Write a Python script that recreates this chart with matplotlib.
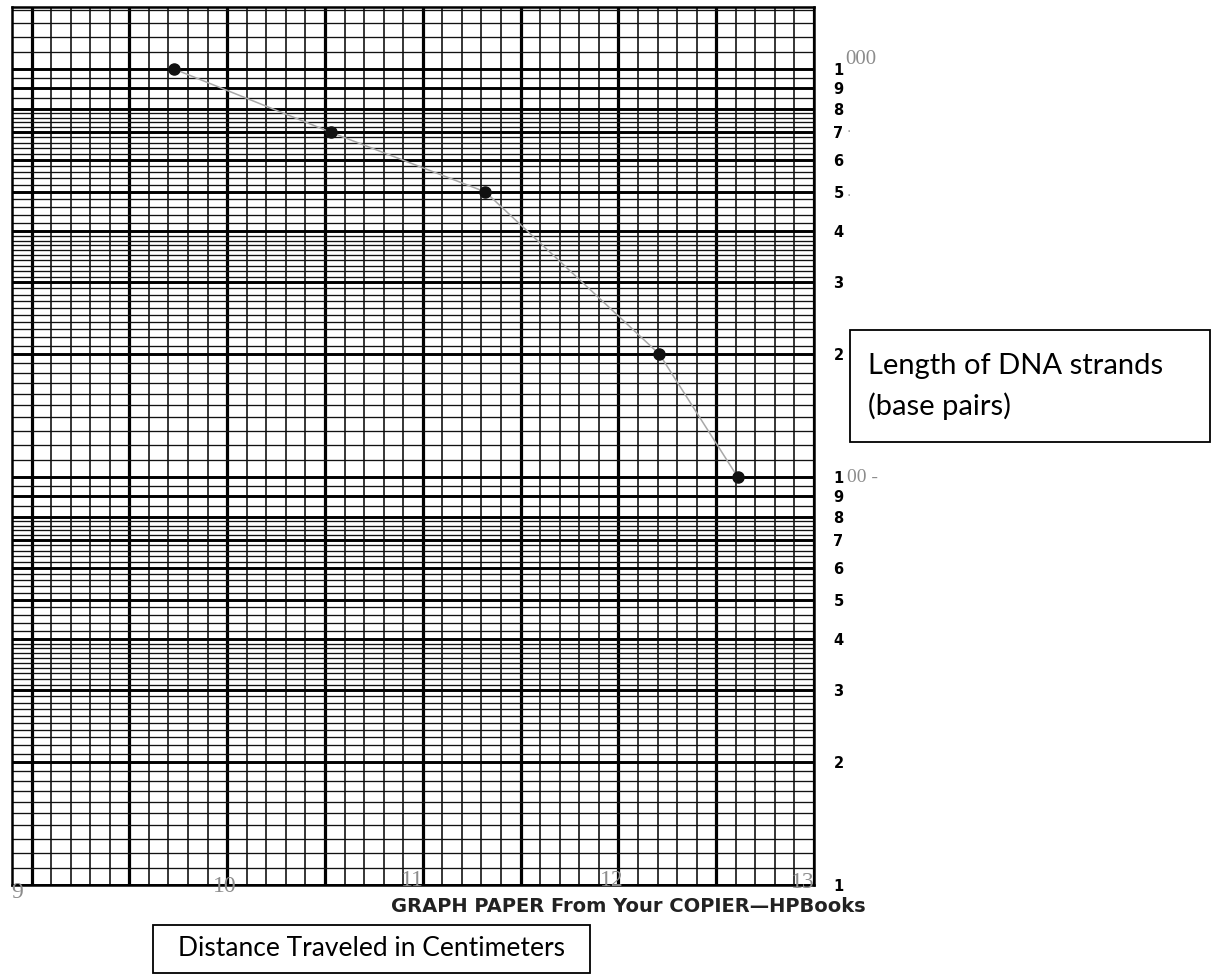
import numpy as np
import matplotlib
matplotlib.use("Agg")
import matplotlib.pyplot as plt
from matplotlib.patches import Rectangle

# data
distance_cm = [9.73, 10.53, 11.32, 12.21, 12.61]
length_bp = [1000, 700, 500, 200, 100]

x_labels = ["9", "10", "11", "12", "13"]
y_tick_values = [10, 20, 30, 40, 50, 60, 70, 80, 90,
                 100, 200, 300, 400, 500, 600, 700, 800, 900, 1000]
y_tick_labels = ["1", "2", "3", "4", "5", "6", "7", "8", "9",
                 "1", "2", "3", "4", "5", "6", "7", "8", "9", "1"]

# printed log-paper subdivisions: (start, stop, step)
paper_segments = [(10, 40, 1), (40, 80, 2), (80, 100, 5), (100, 400, 10),
                  (400, 800, 20), (800, 1000, 50), (1000, 1500, 100)]

W, H = 1214, 975
fig = plt.figure(figsize=(W / 100, H / 100), dpi=100)
ax = fig.add_axes([12 / W, 1 - 885 / H, (814 - 12) / W, (885 - 7) / H])
ax.set_yscale("log")
ax.set_xlim(8.9, 13.0)
ax.set_ylim(10, 1420)

# vertical rulings every 0.1, heavy every 0.5
xs_minor = np.round(np.arange(8.9, 13.001, 0.1), 2)
xs_major = [x for x in xs_minor if abs(x * 2 - round(x * 2)) < 1e-6]
ax.vlines(xs_minor, 0, 1, transform=ax.get_xaxis_transform(), color="black", lw=1.1, zorder=1)
ax.vlines(xs_major, 0, 1, transform=ax.get_xaxis_transform(), color="black", lw=2.3, zorder=1)

# horizontal rulings
ys_minor = np.concatenate([np.arange(a, b, s) for a, b, s in paper_segments])
ax.hlines(ys_minor, 0, 1, transform=ax.get_yaxis_transform(), color="#111111", lw=0.95, zorder=1)
ax.hlines(y_tick_values, 0, 1, transform=ax.get_yaxis_transform(), color="black", lw=2.1, zorder=1)

for s in ax.spines.values():
    s.set_linewidth(1.8)
    s.set_color("black")

# the hand-drawn curve and points
ax.plot(distance_cm, length_bp, color="#a8a8a8", lw=1.1, zorder=3)
ax.plot(distance_cm, length_bp, "o", color="#111111", ms=8, zorder=4)

ax.yaxis.tick_right()
ax.set_yticks(y_tick_values)
ax.set_yticklabels(y_tick_labels, fontsize=10.5, fontweight="bold", family="DejaVu Sans")
ax.yaxis.set_minor_locator(matplotlib.ticker.NullLocator())
ax.tick_params(axis="y", length=0, pad=14)
ax.set_xticks([])

# handwritten numbers under the paper
hand_px = [(17, 892), (225, 886), (412, 881), (612, 881), (803, 882)]
for lab, (px, py) in zip(x_labels, hand_px):
    fig.text(px / W, 1 - py / H, lab, fontsize=17, color="#8c8c8c", ha="center", va="center",
             family="Liberation Serif")

# handwritten additions to the printed scale
ax.text(1.039, 1000, "000", transform=ax.get_yaxis_transform(), fontsize=15,
        color="#8c8c8c", va="bottom", ha="left", family="Liberation Serif")
ax.text(1.041, 100, "00 -", transform=ax.get_yaxis_transform(), fontsize=14,
        color="#8c8c8c", va="center", ha="left", family="Liberation Serif")
ax.text(1.04, 700, "\u00b7", transform=ax.get_yaxis_transform(), fontsize=10,
        color="#9a9a9a", va="center", ha="left")
ax.text(1.04, 500, ".", transform=ax.get_yaxis_transform(), fontsize=10,
        color="#9a9a9a", va="center", ha="left")

fig.text(866 / W, 1 - 907 / H, "GRAPH PAPER From Your COPIER\u2014HPBooks", ha="right",
         va="center", fontsize=14, fontweight="bold", family="DejaVu Sans", color="#222222")

# label boxes
fig.patches.append(Rectangle((850 / W, 1 - 442 / H), 360 / W, 112 / H, transform=fig.transFigure,
                             fill=False, edgecolor="black", lw=1.3))
fig.text(868 / W, 1 - 366 / H, "Length of DNA strands", fontsize=21, family="Lato", va="center")
fig.text(868 / W, 1 - 406 / H, "(base pairs)", fontsize=21, family="Lato", va="center")

fig.patches.append(Rectangle((153 / W, 1 - 973 / H), 437 / W, 48 / H, transform=fig.transFigure,
                             fill=False, edgecolor="black", lw=1.3))
fig.text(372 / W, 1 - 949 / H, "Distance Traveled in Centimeters", fontsize=19, family="Lato",
         ha="center", va="center")

fig.savefig("out.png", dpi=100)
